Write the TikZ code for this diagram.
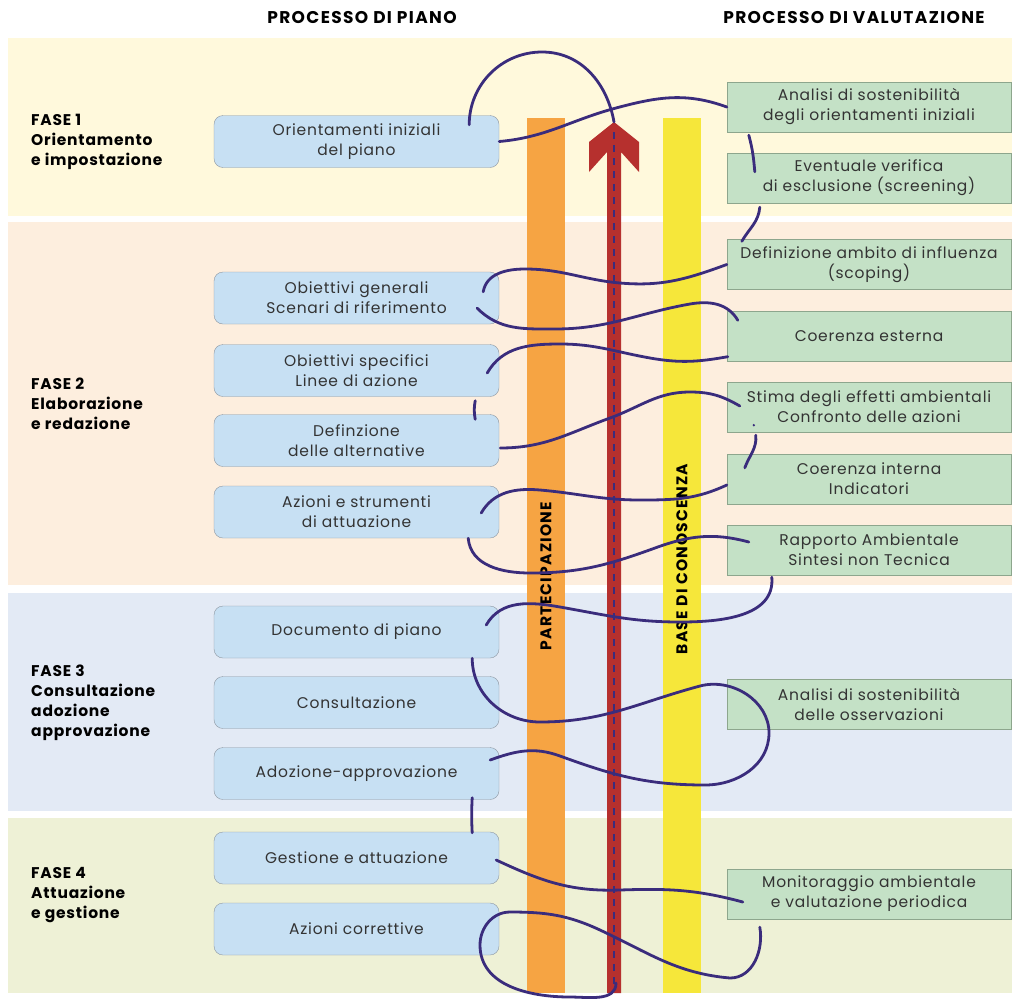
\documentclass[tikz,border=0pt]{standalone}
\usepackage{fontspec}
\setmainfont{Poppins}[LetterSpace=5]
\newfontfamily\headfont{Poppins}[LetterSpace=8]
\definecolor{band1}{HTML}{FFF9DC}
\definecolor{band2}{HTML}{FDEEDE}
\definecolor{band3}{HTML}{E3EAF5}
\definecolor{band4}{HTML}{EEF1D6}
\definecolor{planblue}{HTML}{C7E0F3}
\definecolor{planborder}{HTML}{8C96A0}
\definecolor{evalgreen}{HTML}{C4E1C6}
\definecolor{evalborder}{HTML}{8DA68D}
\definecolor{barorange}{HTML}{F6A443}
\definecolor{baryellow}{HTML}{F6E73A}
\definecolor{arrowred}{HTML}{B6302E}
\definecolor{spiralc}{HTML}{3A2C7C}
\definecolor{textgray}{HTML}{333333}
\begin{document}
\begin{tikzpicture}[x=1pt,y=1pt,
    planbox/.style={draw=planborder,fill=planblue,rounded corners=9pt,minimum width=285pt,
      minimum height=52pt,inner sep=0pt,align=center,text=textgray,font=\fontsize{15.5}{20}\selectfont},
    evalbox/.style={draw=evalborder,fill=evalgreen,minimum width=284pt,minimum height=50pt,
      inner sep=0pt,align=center,text=textgray,font=\fontsize{15.5}{20}\selectfont},
    phase/.style={anchor=west,align=left,inner sep=0pt,font=\bfseries\fontsize{15.5}{20}\selectfont},
    header/.style={font=\headfont\bfseries\fontsize{17}{20}\selectfont},
    bartext/.style={rotate=90,font=\headfont\bfseries\fontsize{15.5}{18}\selectfont},
    spiral/.style={draw=spiralc,line width=2.8pt,line cap=round}]
  \useasboundingbox (0,0) rectangle (1016,-999);
  \fill[white] (0,0) rectangle (1016,-999);
  \fill[band1] (8,-38) rectangle (1012,-216);
  \fill[band2] (8,-222) rectangle (1012,-585);
  \fill[band3] (8,-593) rectangle (1012,-811);
  \fill[band4] (8,-818) rectangle (1012,-993);

  \node[header] (hplan) at (362,-18) {PROCESSO DI PIANO};
  \node[header] (hval) at (854,-18) {PROCESSO DI VALUTAZIONE};

  \node[phase] (f1) at (31,-141.5) {FASE 1\\Orientamento\\e impostazione};
  \node[phase] (f2) at (31,-404) {FASE 2\\Elaborazione\\e redazione};
  \node[phase] (f3) at (31,-703) {FASE 3\\Consultazione\\adozione\\approvazione};
  \node[phase] (f4) at (31,-895) {FASE 4\\Attuazione\\e gestione};

  \fill[barorange] (527,-118) rectangle (565,-993);
  \fill[baryellow] (663,-118) rectangle (701,-993);
  \fill[arrowred] (607,-993) -- (607,-152) -- (589,-172) -- (589,-142) -- (614,-122)
    -- (639,-142) -- (639,-172) -- (621,-152) -- (621,-993) -- cycle;
  \draw[spiralc,line width=2pt,dash pattern=on 7pt off 6pt] (614,-132) -- (614,-990);
  \coordinate (tip) at (614,-122);
  \coordinate (foot) at (616,-983);
  \node[bartext] (partec) at (546,-576) {PARTECIPAZIONE};
  \node[bartext] (conosc) at (682,-559) {BASE DI CONOSCENZA};

  \node[planbox] (orient) at (356.5,-141.5) {Orientamenti iniziali\\del piano};
  \node[planbox] (obgen) at (356.5,-298) {Obiettivi generali\\Scenari di riferimento};
  \node[planbox] (obspec) at (356.5,-370.5) {Obiettivi specifici\\Linee di azione};
  \node[planbox] (altern) at (356.5,-440.5) {Definzione\\delle alternative};
  \node[planbox] (azioni) at (356.5,-512) {Azioni e strumenti\\di attuazione};
  \node[planbox] (docum) at (356.5,-632) {Documento di piano};
  \node[planbox] (consult) at (356.5,-702.5) {Consultazione};
  \node[planbox] (adoz) at (356.5,-773.5) {Adozione-approvazione};
  \node[planbox] (gestione) at (356.5,-858) {Gestione e attuazione};
  \node[planbox] (corrett) at (356.5,-929) {Azioni correttive};

  \node[evalbox] (analisi) at (869,-107) {Analisi di sostenibilità\\degli orientamenti iniziali};
  \node[evalbox] (screening) at (869,-178) {Eventuale verifica\\di esclusione (screening)};
  \node[evalbox] (scoping) at (869,-264.5) {Definizione ambito di influenza\\(scoping)};
  \node[evalbox] (coerest) at (869,-336.5) {Coerenza esterna};
  \node[evalbox] (stima) at (869,-407) {Stima degli effetti ambientali\\Confronto delle azioni};
  \node[evalbox] (coerint) at (869,-479) {Coerenza interna\\Indicatori};
  \node[evalbox] (rapporto) at (869,-550) {Rapporto Ambientale\\Sintesi non Tecnica};
  \node[evalbox] (osserv) at (869,-704) {Analisi di sostenibilità\\delle osservazioni};
  \node[evalbox] (monitor) at (869,-894) {Monitoraggio ambientale\\e valutazione periodica};

  \begin{scope}[spiral]
    \draw ([shift={(-30,-9.5)}]orient.north east) to[out=90,in=180] (542,-52) to[out=0,in=100] (tip);
    \draw (orient.east) to[out=5,in=195] (616,-108) to[out=15,in=160] (analisi.west);
    \draw ([shift={(22,-3)}]analisi.south west) to[out=-75,in=95] ([shift={(28,-19)}]screening.north west);
    \draw ([shift={(33,-4)}]screening.south west) to[out=-95,in=60] ([shift={(15,-2)}]scoping.north west);
    \draw (scoping.west) to[out=200,in=-5] (620,-283) to[out=175,in=0] (525,-269)
      to[out=180,in=80] ([shift={(-16,-20)}]obgen.north east);
    \draw ([shift={(-22,16)}]obgen.south east) to[out=-45,in=180] (555,-329) to[out=0,in=190] (690,-304)
      to[out=10,in=120] ([shift={(11,-9)}]coerest.north west);
    \draw ([shift={(1,5)}]coerest.south west) to[out=190,in=-10] (650,-358) to[out=170,in=0] (560,-344)
      to[out=180,in=60] ([shift={(-12,-2.5)}]obspec.east);
    \draw ([shift={(-24,-4)}]obspec.south east) to[out=-100,in=100] ([shift={(-24,-5)}]altern.north east);
    \draw ([shift={(1,-7.5)}]altern.east) to[out=0,in=200] (610,-418) to[out=20,in=180] (690,-392)
      to[out=0,in=150] ([shift={(13,1)}]stima.west);
    \fill[spiralc] ([shift={(27,7)}]stima.south west) circle (1.3);
    \draw ([shift={(29,-3)}]stima.south west) to[out=-85,in=70] ([shift={(18,-14)}]coerint.north west);
    \draw ([shift={(0,-6)}]coerint.west) to[out=205,in=0] (640,-500) to[out=180,in=-5] (540,-490)
      to[out=175,in=60] ([shift={(-18,-1)}]azioni.east);
    \draw ([shift={(-31,0)}]azioni.south east) to[out=-85,in=180] (530,-573) to[out=0,in=200] (655,-548)
      to[out=20,in=165] ([shift={(22,8)}]rapporto.west);
    \draw ([shift={(45,-2)}]rapporto.south west) to[out=-85,in=0] (680,-622) to[out=180,in=-10] (560,-607)
      to[out=170,in=60] ([shift={(-13,7)}]docum.east);
    \draw ([shift={(-27,0)}]docum.south east) to[out=-90,in=180] (540,-722) to[out=0,in=195] (700,-686)
      to[out=15,in=90] (769,-733) to[out=-90,in=0] (705,-785) to[out=180,in=-20] (560,-756)
      to[out=160,in=20] ([shift={(-9,13.5)}]adoz.east);
    \draw ([shift={(-27,2)}]adoz.south east) to[out=-93,in=93] ([shift={(-27,-1)}]gestione.north east);
    \draw ([shift={(-3,-2)}]gestione.east) to[out=-25,in=182] (620,-890) to[out=2,in=165] ([shift={(16,-8)}]monitor.west);
    \draw ([shift={(33,-8)}]monitor.south west) to[out=-80,in=0] (730,-978) to[out=175,in=-25] (600,-930)
      to[out=155,in=0] (510,-912) to[out=180,in=90] (480,-945) to[out=-90,in=180] (570,-997)
      to[out=0,in=-90] (foot);
  \end{scope}
\end{tikzpicture}
\end{document}
